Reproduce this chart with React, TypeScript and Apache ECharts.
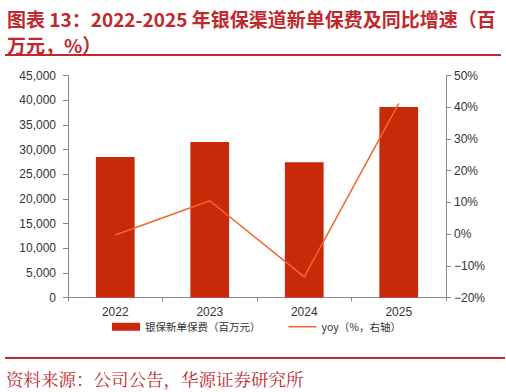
import React, { useEffect, useRef } from "react";
import * as echarts from "echarts";

const titleLine1 = "图表 13：2022-2025 年银保渠道新单保费及同比增速（百";
const titleLine2 = "万元，%）";
const sourceText = "资料来源：公司公告，华源证券研究所";

const categories = ["2022", "2023", "2024", "2025"];
const premiumValues = [28500, 31500, 27400, 38600];
const yoyValues = [-0.3, 10.5, -13.5, 41.2];
const barName = "银保新单保费（百万元）";
const lineName = "yoy（%，右轴）";

const RED = "#C0282E";

export default function App() {
  const ref = useRef<HTMLDivElement>(null);
  useEffect(() => {
    if (!ref.current) return;
    const chart = echarts.init(ref.current, undefined, { renderer: "svg" });
    const axisLabel = { color: "#333", fontSize: 12, fontFamily: "Liberation Sans, Arial, sans-serif" };
    chart.setOption({
      animation: false,
      backgroundColor: "#fff",
      graphic: [
        {
          type: "text",
          left: 7,
          top: 5,
          style: {
            text: titleLine1 + "\n" + titleLine2,
            fill: RED,
            fontSize: 19,
            fontWeight: "bold",
            fontFamily: "'Noto Sans CJK SC', sans-serif",
            lineHeight: 26,
          },
        },
        {
          type: "line",
          shape: { x1: 5, y1: 55, x2: 501, y2: 55 },
          style: { stroke: RED, lineWidth: 2 },
        },
        {
          type: "line",
          shape: { x1: 5, y1: 358, x2: 505, y2: 358 },
          style: { stroke: RED, lineWidth: 2 },
        },
        {
          type: "text",
          left: 6,
          top: 370,
          style: { text: sourceText, fill: RED, font: "17.5px 'Noto Serif CJK SC', 'AR PL UMing CN', serif" },
        },
      ],
      grid: { left: 68, right: 60, top: 75.5, bottom: 94.5, containLabel: false },
      legend: {
        bottom: 55,
        left: 107,
        itemWidth: 28,
        itemHeight: 8,
        itemGap: 28,
        symbolKeepAspect: true,
        textStyle: { color: "#333", fontSize: 10.5, fontFamily: "'Noto Sans CJK SC', sans-serif" },
        data: [
          { name: barName, icon: "rect" },
          { name: lineName, icon: "path://M0,0 H28 V1.5 H0 Z" },
        ],
      },
      xAxis: {
        type: "category",
        data: categories,
        axisLine: { lineStyle: { color: "#888" } },
        axisTick: { show: true, lineStyle: { color: "#888" }, length: 4 },
        axisLabel: { ...axisLabel, margin: 8 },
      },
      yAxis: [
        {
          type: "value",
          min: 0,
          max: 45000,
          interval: 5000,
          axisLine: { show: true, lineStyle: { color: "#888" } },
          axisTick: { show: true, lineStyle: { color: "#888" }, length: 5 },
          splitLine: { show: false },
          axisLabel: {
            ...axisLabel,
            margin: 12,
            formatter: (v: number) => v.toLocaleString("en-US"),
          },
        },
        {
          type: "value",
          min: -20,
          max: 50,
          interval: 10,
          position: "right",
          axisLine: { show: true, lineStyle: { color: "#888" } },
          axisTick: { show: true, lineStyle: { color: "#888" }, length: 5 },
          splitLine: { show: false },
          axisLabel: {
            ...axisLabel,
            margin: 8,
            formatter: (v: number) => `${v}%`.replace("-", "\u2212"),
          },
        },
      ],
      series: [
        {
          name: barName,
          type: "bar",
          data: premiumValues,
          barWidth: "41%",
          itemStyle: { color: "#C8290A" },
        },
        {
          name: lineName,
          type: "line",
          yAxisIndex: 1,
          data: yoyValues,
          symbol: "none",
          lineStyle: { color: "#F4662A", width: 1.5 },
          itemStyle: { color: "#F4662A" },
        },
      ],
    });
    return () => chart.dispose();
  }, []);
  return <div ref={ref} style={{ width: 506, height: 392, position: "absolute", left: 0, top: 0 }} />;
}
